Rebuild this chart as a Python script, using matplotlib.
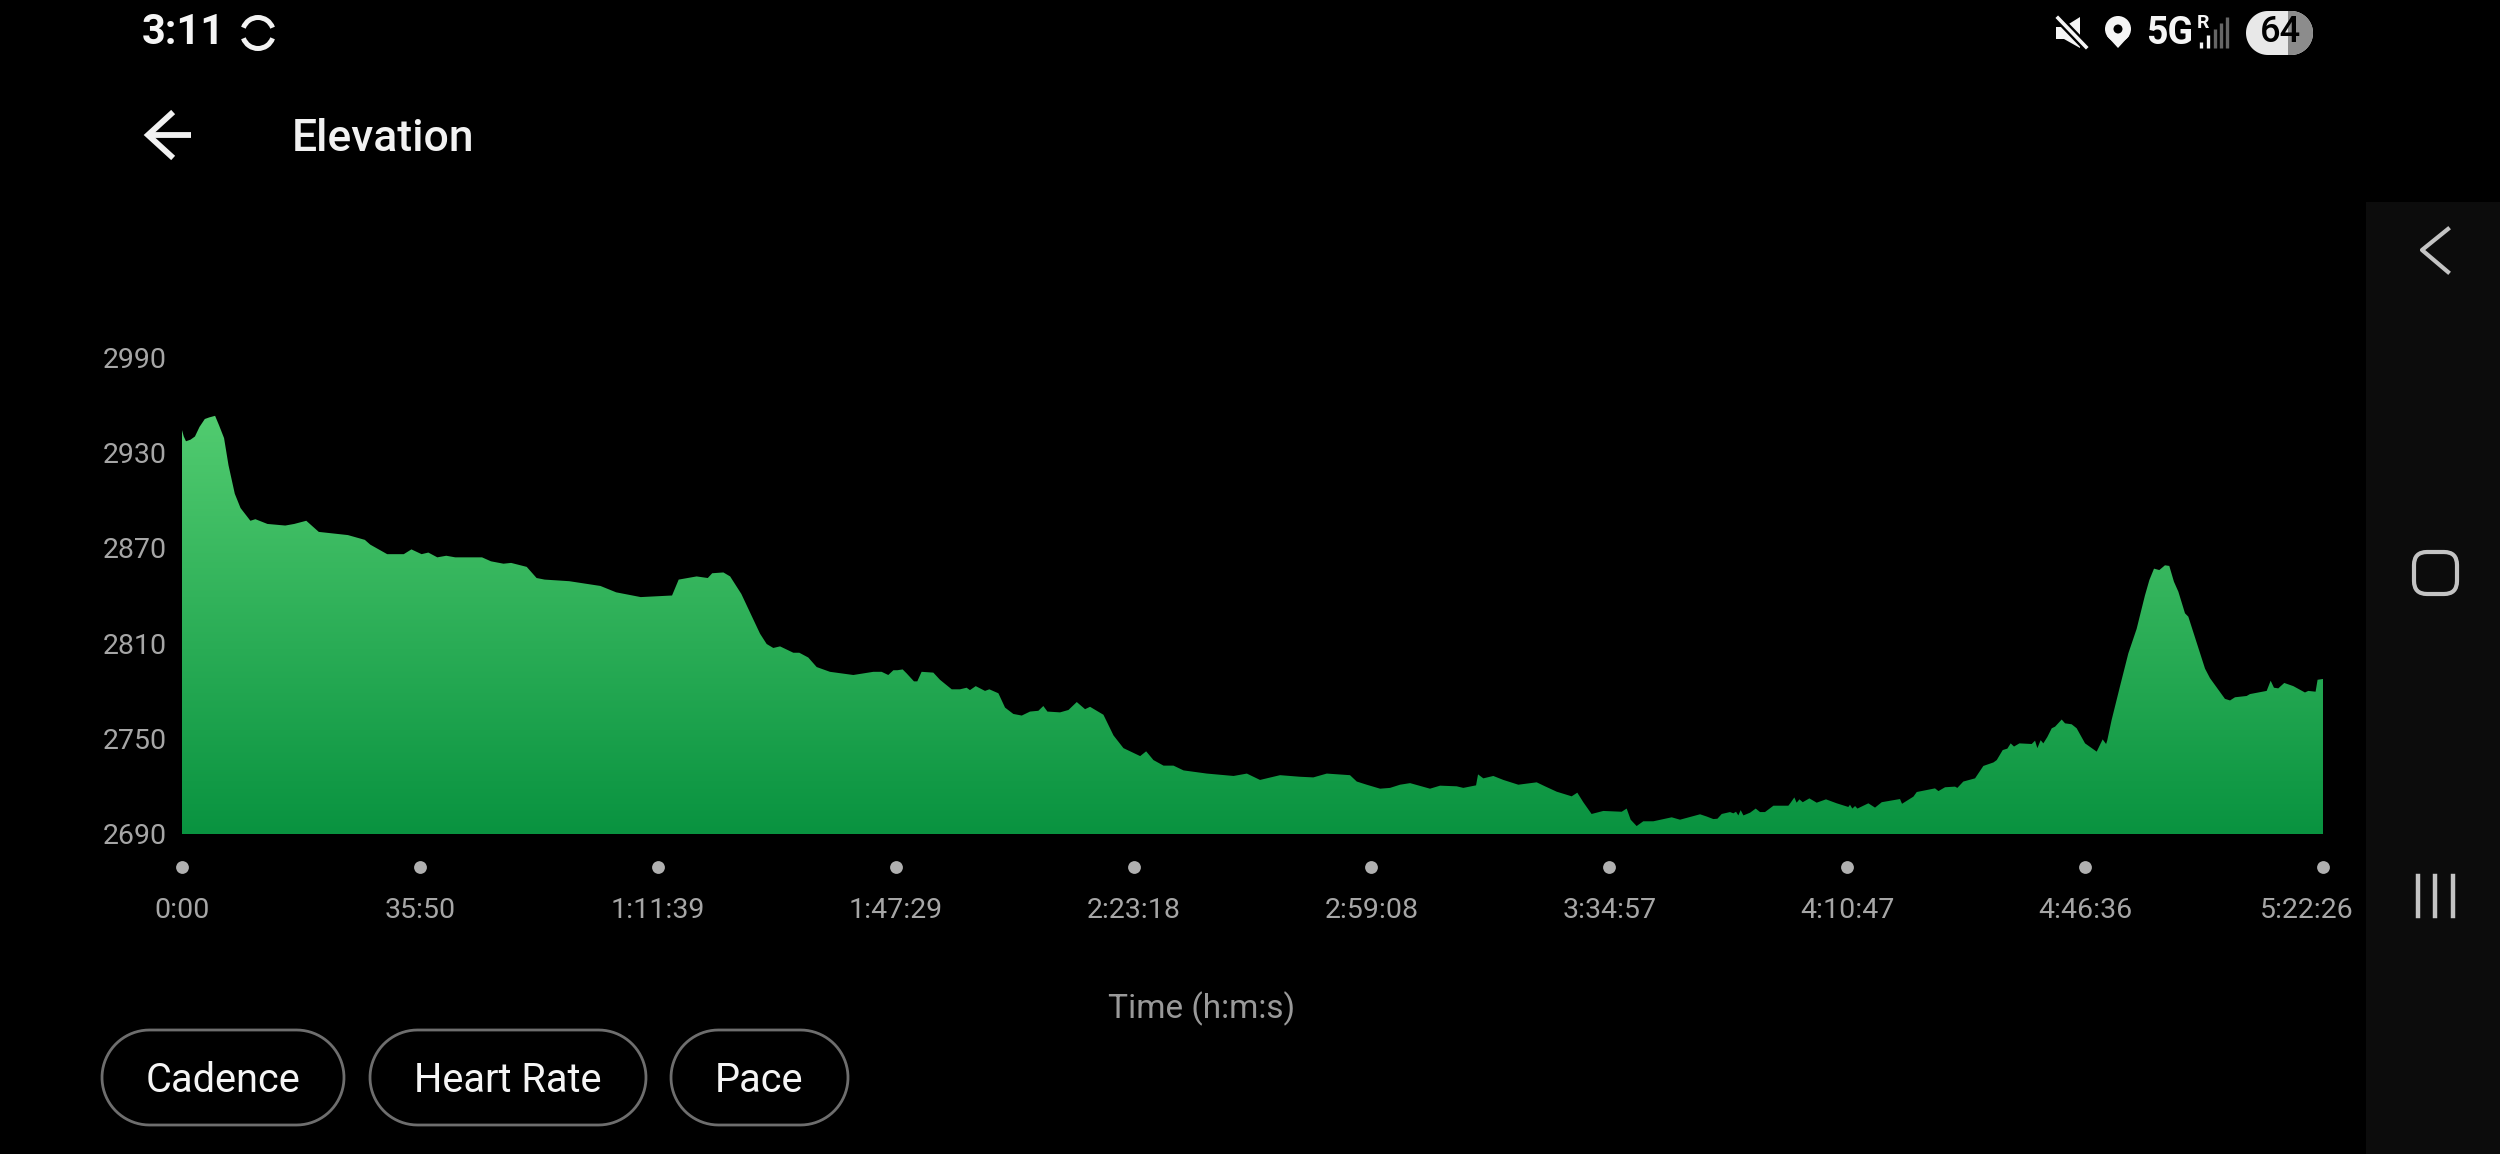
import numpy as np
import matplotlib
matplotlib.use('Agg')
import matplotlib.pyplot as plt
from matplotlib.colors import LinearSegmentedColormap
from matplotlib.patches import FancyBboxPatch, Rectangle, Arc, Polygon, Circle
from matplotlib.transforms import ScaledTranslation

plt.rcParams['font.family'] = ['Roboto', 'DejaVu Sans']

# elevation profile: seconds since start, metres
time_s = [0, 16, 36, 77, 117, 158, 206, 246, 299, 335, 380, 420, 477, 529, 618, 663, 772, 933, 1014, 1123,
          1236, 1499, 1652, 1701, 1854, 2004, 2073, 2165, 2226, 2307, 2388, 2469, 2711, 2792, 2905, 2974,
          3115, 3204, 3277, 3499, 3781, 3923, 4145, 4428, 4488, 4650, 4751, 4791, 4892, 4953, 5054, 5135,
          5223, 5283, 5343, 5404, 5524, 5578, 5659, 5735, 5855, 6066, 6247, 6322, 6382, 6428, 6464, 6512,
          6548, 6614, 6644, 6683, 6789, 6849, 6955, 7030, 7090, 7120, 7172, 7256, 7295, 7377, 7437, 7512,
          7588, 7663, 7738, 7783, 7820, 7934, 8010, 8085, 8160, 8205, 8326, 8417, 8507, 8658, 8712, 8778,
          8869, 8959, 9050, 9261, 9502, 9622, 9741, 9922, 10103, 10223, 10344, 10554, 10615, 10705, 10826,
          10916, 11006, 11097, 11277, 11368, 11518, 11578, 11693, 11711, 11759, 11849, 11940, 12075, 12241,
          12316, 12422, 12557, 12608, 12662, 12737, 12843, 13009, 13054, 13090, 13144, 13204, 13295, 13461,
          13536,
          13717, 13777, 13837, 13874, 13913, 13988, 14018, 14042, 14063, 14084, 14109, 14169, 14220, 14259,
          14304, 14380, 14515, 14536, 14569, 14590, 14615, 14645, 14705, 14771, 14855, 14952, 15057, 15072,
          15093, 15118, 15139, 15238, 15298, 15359, 15524, 15542, 15645, 15675, 15840, 15871, 15931, 16021,
          16042, 16096, 16202, 16277, 16368, 16398, 16452, 16494, 16524, 16554, 16603, 16714, 16744, 16765,
          16795, 16819, 16855, 16895, 16925, 16985, 17015, 17075, 17120, 17196, 17301, 17355, 17386,
          17397, 17436, 17511, 17587, 17662, 17737, 17777, 17819, 17867, 17918, 17957, 17999, 18039, 18099,
          18129, 18280, 18325, 18460, 18506, 18551, 18656, 18686, 18837, 18873, 18903, 18942, 18996, 19078,
          19183, 19213, 19279, 19297, 19346]
elevation = [2944, 2940, 2937, 2938, 2940, 2946, 2951, 2952, 2953, 2947, 2939, 2922, 2904, 2895, 2887, 2888, 2885, 2884, 2885, 2887,
             2880, 2878, 2875, 2872, 2866, 2866, 2869, 2866, 2867, 2864, 2865, 2864, 2864, 2861.5, 2860, 2860.5,
             2858, 2851, 2850, 2849, 2846, 2842, 2839, 2840, 2850, 2852, 2851, 2854, 2854.5, 2852, 2841, 2829,
             2816, 2809.5, 2807, 2808, 2804, 2804, 2801, 2795, 2792, 2790, 2792, 2792, 2790, 2793, 2793, 2793.5,
             2791, 2786, 2786, 2792, 2791.5, 2787, 2781, 2781, 2782, 2780.5, 2783, 2780, 2781, 2778.5, 2769.5, 2765.5,
             2764.5, 2767, 2767.5, 2770.5, 2767, 2766.5, 2768, 2773, 2768.5, 2770, 2765, 2752, 2744, 2739, 2742, 2736.5,
             2733, 2733, 2730, 2728, 2726.5, 2728, 2724, 2727, 2726, 2725.6, 2728, 2727, 2723, 2721, 2718.5,
             2719, 2721, 2722, 2718.5, 2720.4, 2720, 2719, 2720.6, 2727.5, 2725, 2726.5, 2724, 2721, 2722.5,
             2720, 2716.6, 2713.7, 2716, 2710, 2702.6, 2704.5, 2704, 2706, 2699, 2695, 2698, 2698, 2700.5,
             2699,
             2702.4, 2701, 2699.4, 2699.6, 2702.6, 2703.8, 2703, 2704, 2701.7, 2705, 2701.7, 2703.4, 2706, 2703.8,
             2703.8, 2707.8, 2707.8, 2709.7, 2713, 2709.7, 2711.8, 2710, 2712.4, 2709.7, 2711.8, 2709.3, 2707, 2708.4,
             2706, 2707.6, 2706, 2709.3, 2706.6, 2710, 2712, 2709, 2713.5, 2716.4, 2718.7, 2717, 2719.4, 2719.8,
             2719, 2723, 2725, 2732.8, 2735, 2736.5, 2742.8, 2743.7, 2747, 2745, 2747, 2746.6, 2748.7, 2744,
             2749, 2747, 2751, 2756.5, 2757.5, 2762, 2759.6, 2759, 2756.5, 2747, 2741.8, 2749.5, 2746.6,
             2749, 2761.7, 2782.7, 2803.6, 2819, 2840, 2849.7, 2856.9, 2856, 2859, 2858.6, 2848.7, 2842.4, 2828.8,
             2826.7, 2794, 2788, 2775, 2774, 2776, 2776.8, 2778, 2780, 2786.4, 2782, 2781.6, 2785, 2783,
             2779, 2780, 2779.5, 2787, 2787.5]

y_ticks = [2690, 2750, 2810, 2870, 2930, 2990]
x_ticks = [0, 2150, 4299, 6449, 8598, 10748, 12897, 15047, 17196, 19346]
x_labels = ['0:00', '35:50', '1:11:39', '1:47:29', '2:23:18', '2:59:08', '3:34:57', '4:10:47', '4:46:36', '5:22:26']
buttons = ['Cadence', 'Heart Rate', 'Pace']

W, H = 2500, 1154
fig = plt.figure(figsize=(W / 100, H / 100), dpi=100, facecolor='black')

ax = fig.add_axes([182 / W, 1 - 834 / H, (2323 - 182) / W, (834 - 357) / H], facecolor='black')
for s in ax.spines.values():
    s.set_visible(False)

# gradient fill clipped to the profile
area = ax.fill_between(time_s, elevation, 2690, facecolor='none', edgecolor='none')
cmap = LinearSegmentedColormap.from_list('elev', ['#099340', '#52cc70'])
grad = np.linspace(0, 1, 256).reshape(-1, 1)
im = ax.imshow(grad, cmap=cmap, origin='lower', aspect='auto', extent=[0, 19346, 2690, 2955])
im.set_clip_path(area.get_paths()[0], transform=ax.transData)
ax.set_xlim(0, 19346)
ax.set_ylim(2690, 2990)

ax.set_yticks(y_ticks)
ax.set_xticks(x_ticks)
ax.set_xticklabels(x_labels)
ax.tick_params(axis='y', length=0, pad=11, labelsize=20.5, labelcolor='#a6a6a6')
ax.tick_params(axis='x', length=0, pad=45, labelsize=20.5, labelcolor='#a6a6a6')
# last label is pushed left so it stays clear of the nav bar
last = ax.get_xticklabels()[-1]
last.set_transform(last.get_transform() + ScaledTranslation(-16 / 100, 0, fig.dpi_scale_trans))
ax.scatter(x_ticks, [2669] * len(x_ticks), s=85, color='#b0b0b0', linewidths=0, clip_on=False, zorder=3)

# phone screen around the chart, in pixels
ui = fig.add_axes([0, 0, 1, 1], facecolor='none')
ui.set_xlim(0, W)
ui.set_ylim(H, 0)
ui.axis('off')


def pill(x0, x1, y0, y1):
    # outline with true round ends
    r = (y1 - y0) / 2
    cy = (y0 + y1) / 2
    t = np.linspace(-np.pi / 2, np.pi / 2, 40)
    right = np.c_[x1 - r + r * np.cos(t), cy + r * np.sin(t)]
    left = np.c_[x0 + r - r * np.cos(t[::-1] * -1), cy + r * np.sin(t[::-1])]
    return np.vstack([right, left])


ui.text(1202, 1009, 'Time (h:m:s)', color='#999999', fontsize=24, ha='center', va='center')
ui.text(292, 139, 'Elevation', color='#f2f2f2', fontsize=32, fontweight='medium', ha='left', va='center')
ui.text(142, 33, '3:11', color='#f5f5f5', fontsize=30, fontweight='bold', ha='left', va='center')

# back arrow
ui.plot([147, 191], [135, 135], color='#f2f2f2', lw=4.2, solid_capstyle='butt')
ui.plot([171, 148, 171], [114, 135, 156], color='#f2f2f2', lw=4.2, solid_joinstyle='miter')

# sync icon
ui.add_patch(Arc((258, 33), 31, 31, theta1=20, theta2=160, color='#f2f2f2', lw=3.6))
ui.add_patch(Arc((258, 33), 31, 31, theta1=200, theta2=340, color='#f2f2f2', lw=3.6))

# mute icon
ui.add_patch(Polygon([[2056, 27], [2064, 27], [2080, 17], [2080, 48], [2064, 39], [2056, 39]], color='#f5f5f5', lw=0))
ui.plot([2058, 2086], [18, 47], color='black', lw=6)
ui.plot([2058, 2086], [18, 47], color='#f5f5f5', lw=2.6)

# location pin
ui.add_patch(Circle((2118, 29), 13, color='#f5f5f5', lw=0))
ui.add_patch(Polygon([[2107, 36], [2129, 36], [2118, 48]], color='#f5f5f5', lw=0))
ui.add_patch(Circle((2118, 29), 4.5, color='black', lw=0))

ui.text(2146, 33, '5G', color='#f5f5f5', fontsize=27, fontweight='bold', ha='left', va='center')
ui.text(2203, 23, 'R', color='#f5f5f5', fontsize=14, fontweight='bold', ha='center', va='center')

# signal bars
for bx, top, c in zip([2201, 2208, 2215, 2221, 2227], [42, 35, 29, 23, 17],
                      ['#f5f5f5', '#f5f5f5', '#666666', '#666666', '#666666']):
    ui.plot([bx, bx], [top, 48], color=c, lw=2.4, solid_capstyle='butt')

# battery
batt = Polygon(pill(2246, 2313, 11, 55), facecolor='#e8e8e8', edgecolor='none')
ui.add_patch(batt)
part = Rectangle((2288, 11), 25, 44, facecolor='#8c8c8c', edgecolor='none')
ui.add_patch(part)
part.set_clip_path(batt)
ui.text(2280, 33, '64', color='black', fontsize=26, fontweight='medium', ha='center', va='center')

# filter buttons
for name, x0, x1 in zip(buttons, [102, 370, 671], [344, 646, 848]):
    ui.add_patch(Polygon(pill(x0, x1, 1030, 1125), facecolor='black', edgecolor='#6e6e6e', lw=2))
    ui.text((x0 + x1) / 2, 1081, name, color='#f5f5f5', fontsize=28.6, ha='center', va='center')

# navigation bar on the right
ui.add_patch(Rectangle((2366, 202), 134, H - 202, facecolor='#0c0c0c', edgecolor='none', zorder=0))
ui.plot([2448, 2422, 2448], [229, 250, 272], color='#c4c4c4', lw=3)
ui.add_patch(FancyBboxPatch((2414, 552), 43, 42, boxstyle='round,pad=0,rounding_size=13',
                            facecolor='none', edgecolor='#c4c4c4', lw=3))
for bx in [2418, 2435, 2453]:
    ui.plot([bx, bx], [876, 916], color='#c4c4c4', lw=3.2)

fig.savefig('out.png', dpi=100, facecolor='black')
